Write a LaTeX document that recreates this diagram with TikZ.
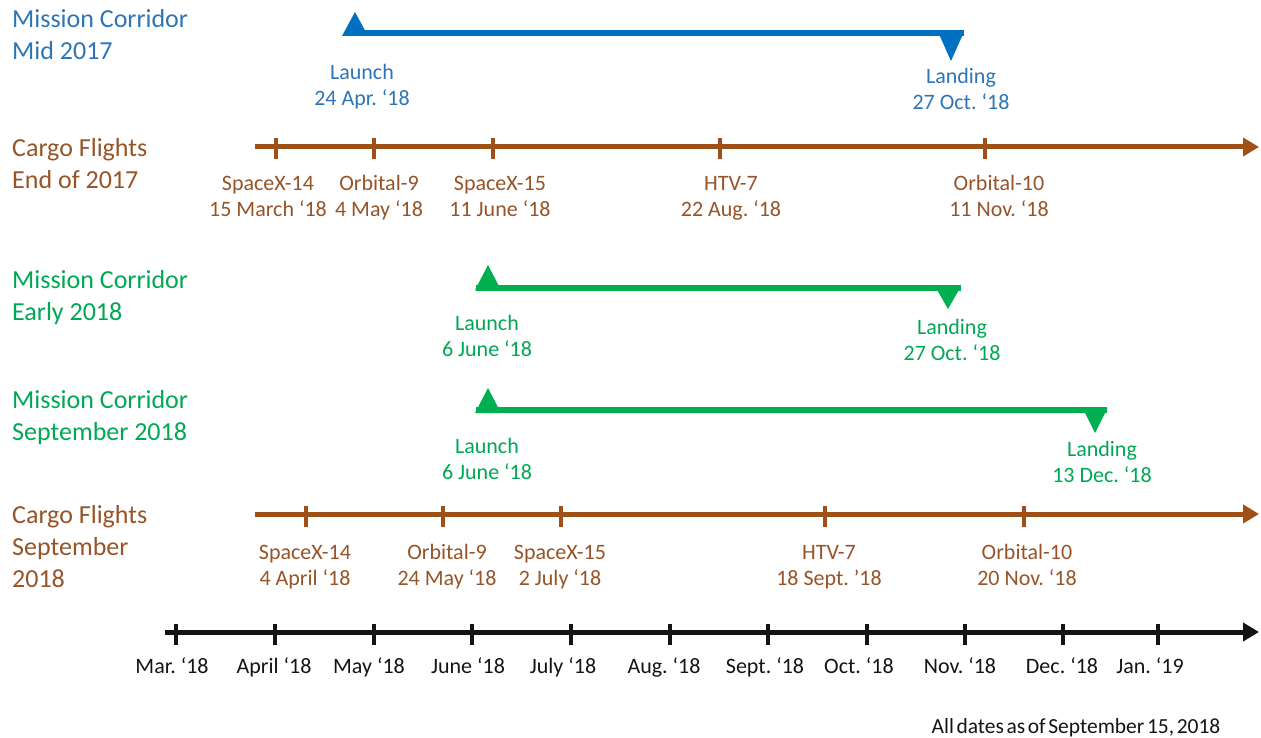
\documentclass[tikz,border=0pt]{standalone}
\usepackage{fontspec}
\setmainfont{Carlito}
\frenchspacing
\usetikzlibrary{arrows.meta}
\definecolor{lblue}{RGB}{0,112,192}
\definecolor{tblue}{RGB}{46,117,182}
\definecolor{lgreen}{RGB}{0,176,80}
\definecolor{tgreen}{RGB}{0,168,84}
\definecolor{lbrown}{RGB}{158,80,22}
\definecolor{tbrown}{RGB}{150,84,40}
\definecolor{ink}{RGB}{20,20,20}
\begin{document}
\begin{tikzpicture}[x=1pt,y=-1pt,
  ttl/.style={anchor=base west, align=left, inner sep=0pt, font=\fontsize{26}{32}\selectfont},
  lbl/.style={anchor=base, align=center, inner sep=0pt, font=\fontsize{22}{26}\selectfont},
  mon/.style={anchor=base, inner sep=0pt, text=ink, font=\fontsize{22}{26}\selectfont},
  tline/.style={line width=5pt, -{Triangle[length=16pt,width=18pt]}},
  corr/.style={line width=6pt},
  tk/.style={rectangle, inner sep=0pt, minimum width=3.5pt, minimum height=21pt, fill=#1},
]
\useasboundingbox (0,0) rectangle (1261,738);

% (multi-line nodes: anchor=base is the baseline of the last line)

% ---------- Mission Corridor Mid 2017 ----------
\node[ttl, text=tblue] (t1) at (12,60) {Mission Corridor\\Mid 2017};
\coordinate (bS) at (345,33);
\coordinate (bE) at (964,33);
\coordinate (bU) at (355,12);
\coordinate (bD) at (951,61);
\draw[corr, lblue] (bS) -- (bE);
\fill[lblue] (bU) -- ++(-13,24) -- ++(26,0) -- cycle;
\fill[lblue] (bD) -- ++(-12.5,-28) -- ++(25,0) -- cycle;
\node[lbl, text=tblue] (bL1) at (362,106) {Launch\\24 Apr. ‘18};
\node[lbl, text=tblue] (bL2) at (961,110) {Landing\\27 Oct. ‘18};

% ---------- Cargo Flights End of 2017 ----------
\node[ttl, text=tbrown] (t2) at (12,189) {Cargo Flights\\End of 2017};
\coordinate (c1S) at (255,147);
\coordinate (c1E) at (1259,147);
\draw[tline, lbrown] (c1S) -- (c1E);
\node[tk=lbrown] (c1a) at (276,149) {};
\node[tk=lbrown] (c1b) at (374,149) {};
\node[tk=lbrown] (c1c) at (493,149) {};
\node[tk=lbrown] (c1d) at (720,149) {};
\node[tk=lbrown] (c1e) at (985,149) {};
\node[lbl, text=tbrown] (c1la) at (268,217) {SpaceX-14\\15 March ‘18};
\node[lbl, text=tbrown] (c1lb) at (379,217) {Orbital-9\\4 May ‘18};
\node[lbl, text=tbrown] (c1lc) at (500,217) {SpaceX-15\\11 June ‘18};
\node[lbl, text=tbrown] (c1ld) at (731,217) {HTV-7\\22 Aug. ‘18};
\node[lbl, text=tbrown] (c1le) at (999,217) {Orbital-10\\11 Nov. ‘18};

% ---------- Mission Corridor Early 2018 ----------
\node[ttl, text=tgreen] (t3) at (12,320) {Mission Corridor\\Early 2018};
\coordinate (gS) at (476,288);
\coordinate (gE) at (961,288);
\coordinate (gU) at (488,265);
\coordinate (gD) at (948,309);
\draw[corr, lgreen] (gS) -- (gE);
\fill[lgreen] (gU) -- ++(-13,25) -- ++(26,0) -- cycle;
\fill[lgreen] (gD) -- ++(-12.5,-22) -- ++(25,0) -- cycle;
\node[lbl, text=tgreen] (gL1) at (487,356) {Launch\\6 June ‘18};
\node[lbl, text=tgreen] (gL2) at (952,360) {Landing\\27 Oct. ‘18};

% ---------- Mission Corridor September 2018 ----------
\node[ttl, text=tgreen] (t4) at (12,440) {Mission Corridor\\September 2018};
\coordinate (sS) at (476,410);
\coordinate (sE) at (1107,410);
\coordinate (sU) at (488,388);
\coordinate (sD) at (1095,433);
\draw[corr, lgreen] (sS) -- (sE);
\fill[lgreen] (sU) -- ++(-13,25) -- ++(26,0) -- cycle;
\fill[lgreen] (sD) -- ++(-12.5,-25) -- ++(25,0) -- cycle;
\node[lbl, text=tgreen] (sL1) at (487,479) {Launch\\6 June ‘18};
\node[lbl, text=tgreen] (sL2) at (1102,482) {Landing\\13 Dec. ‘18};

% ---------- Cargo Flights September 2018 ----------
\node[ttl, text=tbrown] (t5) at (12,587) {Cargo Flights\\September\\2018};
\coordinate (c2S) at (255,514);
\coordinate (c2E) at (1259,514);
\draw[tline, lbrown] (c2S) -- (c2E);
\node[tk=lbrown] (c2a) at (306,516) {};
\node[tk=lbrown] (c2b) at (443,516) {};
\node[tk=lbrown] (c2c) at (561,516) {};
\node[tk=lbrown] (c2d) at (825,516) {};
\node[tk=lbrown] (c2e) at (1024,516) {};
\node[lbl, text=tbrown] (c2la) at (305,585) {SpaceX-14\\4 April ‘18};
\node[lbl, text=tbrown] (c2lb) at (447,585) {Orbital-9\\24 May ‘18};
\node[lbl, text=tbrown] (c2lc) at (560,585) {SpaceX-15\\2 July ‘18};
\node[lbl, text=tbrown] (c2ld) at (829,585) {HTV-7\\18 Sept. ’18};
\node[lbl, text=tbrown] (c2le) at (1027,585) {Orbital-10\\20 Nov. ‘18};

% ---------- Month axis ----------
\coordinate (aS) at (165,632);
\coordinate (aE) at (1259,632);
\draw[tline, ink] (aS) -- (aE);
\foreach \x [count=\i] in {176,275,374,472,571,670,768,867,965,1063,1158}
  \node[tk=ink] (m\i) at (\x,634) {};
\node[mon] (ml1) at (172,673) {Mar. ‘18};
\node[mon] (ml2) at (274,673) {April ‘18};
\node[mon] (ml3) at (369,673) {May ‘18};
\node[mon] (ml4) at (468,673) {June ‘18};
\node[mon] (ml5) at (563,673) {July ‘18};
\node[mon] (ml6) at (664,673) {Aug. ‘18};
\node[mon] (ml7) at (765,673) {Sept. ‘18};
\node[mon] (ml8) at (859,673) {Oct. ‘18};
\node[mon] (ml9) at (960,673) {Nov. ‘18};
\node[mon] (ml10) at (1062,673) {Dec. ‘18};
\node[mon] (ml11) at (1150,673) {Jan. ‘19};

% ---------- footnote ----------
\node[anchor=base, inner sep=0pt, text=ink, font=\fontsize{21.5}{24}\selectfont] (note) at (1076,733) {\spaceskip=0.12em plus 0.05em All dates as of September 15, 2018};
\end{tikzpicture}
\end{document}
